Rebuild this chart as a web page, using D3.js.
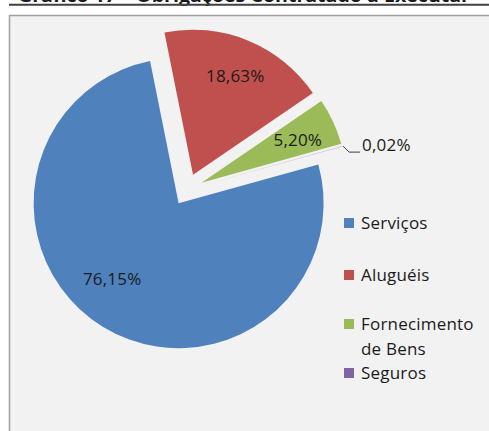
<!DOCTYPE html>
<html>
<head>
<meta charset="utf-8">
<script src="https://cdn.jsdelivr.net/npm/d3@7/dist/d3.min.js"></script>
<style>
  body { margin: 0; background: #fff; }
  svg { display: block; }
  text { font-family: "Open Sans", "Noto Sans", sans-serif; fill: #1a1a1a; }
  .lbl { font-size: 17px; letter-spacing: 0.2px; }
</style>
</head>
<body>
<svg id="chart" width="489" height="431"></svg>
<script>
// data
var categories = ["Serviços", "Aluguéis", "Fornecimento de Bens", "Seguros"];
var shares = [76.15, 18.63, 5.20, 0.02];
var legendLines = [["Serviços"], ["Aluguéis"], ["Fornecimento", "de Bens"], ["Seguros"]];
var titleText = "Gráfico 17 – Obrigações Contratado a Executar";

// look
var colors = ["#4f81bd", "#c0504d", "#9bbb59", "#8064a2"];
var CX = 187, CY = 189.5, R = 145;
var EXPLODE = 16;
var FIRST_ANGLE = 74.5;       // degrees, like excel "angle of first slice"
var LABEL_R = 104;
var labelNudge = [[-12, -13], [3, -2], [2, 1], [0, 0]];
var legendX = 344, legendY = [223, 275, 324, 373], legendLineH = 25;

var br = d3.formatLocale({decimal: ",", thousands: ".", grouping: [3], currency: ["R$", ""]});
var pct = br.format(".2f");

var svg = d3.select("#chart");

// cut off title + rule above the chart box
svg.append("text")
    .attr("x", 18).attr("y", 2)
    .attr("textLength", 452).attr("lengthAdjust", "spacingAndGlyphs")
    .style("font-weight", "bold").style("font-size", "17px")
    .text(titleText);
svg.append("line")
    .attr("x1", 9).attr("x2", 489).attr("y1", 4.8).attr("y2", 4.8)
    .attr("stroke", "#404040").attr("stroke-width", 2);

// chart box
svg.append("rect")
    .attr("x", 9.5).attr("y", 15.5).attr("width", 520).attr("height", 480)
    .attr("fill", "#f2f2f2").attr("stroke", "#a0a0a0").attr("stroke-width", 1.5);

var rad = Math.PI / 180;
var pie = d3.pie().sort(null)
    .startAngle(FIRST_ANGLE * rad)
    .endAngle(FIRST_ANGLE * rad + 2 * Math.PI);
var arcs = pie(shares);
var arc = d3.arc().innerRadius(0).outerRadius(R);

function mid(d) { return (d.startAngle + d.endAngle) / 2; }
function offset(d, r) {
    var a = mid(d);
    return [Math.sin(a) * r, -Math.cos(a) * r];
}

var slices = svg.append("g")
    .attr("transform", "translate(" + CX + "," + CY + ")")
    .selectAll("g")
    .data(arcs)
    .enter().append("g")
    .attr("transform", function(d) {
        var o = offset(d, EXPLODE);
        return "translate(" + o[0] + "," + o[1] + ")";
    });

slices.append("path")
    .attr("d", arc)
    .attr("fill", function(d, i) { return colors[i]; });

// inside labels for the big slices
slices.filter(function(d) { return d.data >= 1; })
    .append("text")
    .attr("class", "lbl")
    .attr("text-anchor", "middle")
    .attr("dy", "0.35em")
    .attr("x", function(d) { return offset(d, LABEL_R)[0] + labelNudge[d.index][0]; })
    .attr("y", function(d) { return offset(d, LABEL_R)[1] + labelNudge[d.index][1]; })
    .text(function(d) { return pct(d.data) + "%"; });

// tiny slice: label outside with a leader
slices.filter(function(d) { return d.data < 1; })
    .each(function(d) {
        var g = d3.select(this);
        var a = mid(d);
        var p0 = [Math.sin(a) * (R + 1), -Math.cos(a) * (R + 1)];
        var p1 = [p0[0] + 6, p0[1] + 6];
        var p2 = [p1[0] + 11, p1[1]];
        g.append("path")
            .attr("d", d3.line()([p0, p1, p2]))
            .attr("fill", "none").attr("stroke", "#404040").attr("stroke-width", 1);
        g.append("text")
            .attr("class", "lbl")
            .attr("x", p2[0] + 2).attr("y", p2[1] - 1)
            .text(pct(d.data) + "%");
    });

// legend
var legend = svg.append("g").selectAll("g")
    .data(categories)
    .enter().append("g")
    .attr("transform", function(d, i) { return "translate(" + legendX + "," + legendY[i] + ")"; });

legend.append("rect")
    .attr("x", 0).attr("y", -5).attr("width", 10).attr("height", 10)
    .attr("fill", function(d, i) { return colors[i]; });

legend.append("text")
    .attr("class", "lbl")
    .each(function(d, i) {
        var t = d3.select(this);
        legendLines[i].forEach(function(line, j) {
            t.append("tspan").attr("x", 17).attr("y", j * legendLineH).attr("dy", "0.35em").text(line);
        });
    });
</script>
</body>
</html>
